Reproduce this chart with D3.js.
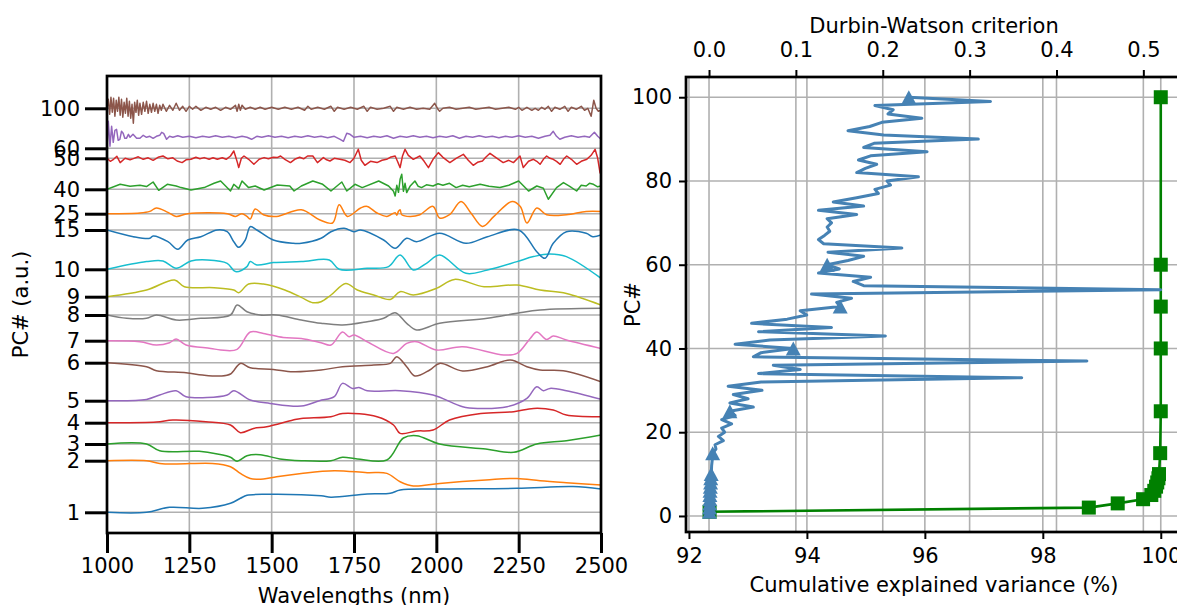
<!DOCTYPE html>
<html>
<head>
  <meta charset="utf-8">
  <title>PC spectra and Durbin-Watson</title>
  <script src="https://d3js.org/d3.v7.min.js"></script>
  <style>
  body { margin: 0; background: #fff; }
  text { font-family: "DejaVu Sans", sans-serif; font-size: 21px; fill: #000; }
  </style>
</head>
<body>
  <div id='container'></div>
  <script>

  // ---------- left panel data ----------
  var pcLabels = ['1','2','3','4','5','6','7','8','9','10','15','25','40','50','60','100']
  // vertical offset of each loading (a.u.)
  var pcOffsets = [0, 51.6, 68.3, 89.6, 111.6, 149.6, 171.6, 197.3, 215.6, 243, 282.3, 298.6, 323, 354, 364, 404]
  var wlTicks = [1000, 1250, 1500, 1750, 2000, 2250, 2500]
  var tab10 = ['#1f77b4','#ff7f0e','#2ca02c','#d62728','#9467bd','#8c564b','#e377c2','#7f7f7f','#bcbd22','#17becf']

  // loadings: [wavelength nm, value a.u. relative to offset]
  var pc1 = [[1000,0],[1120,0],[1190,5],[1290,4],[1375,9],[1405,14],[1425,17],[1485,18],[1650,16.5],[1680,15],[1790,18.3],[1860,19],[1890,22.3],[2000,23.3],[2245,24],[2415,25.7],[2500,23.3]]
  var pc2 = [[1000,0],[1120,0],[1160,-2.7],[1210,-3.3],[1320,-2.7],[1375,-6],[1405,-12.7],[1435,-17.7],[1475,-18.3],[1515,-16],[1590,-12.7],[1690,-10],[1790,-12],[1850,-12.7],[1890,-21],[1930,-25.3],[2010,-22.7],[2150,-19.3],[2245,-17.7],[2315,-20],[2395,-22],[2500,-24.3]]
  var pc3 = [[1000,0],[1120,0],[1160,-6.7],[1280,-7.3],[1335,-10],[1375,-13.3],[1395,-17.3],[1425,-11.7],[1465,-10.7],[1525,-15],[1590,-16.7],[1680,-16.7],[1715,-13.3],[1760,-15],[1850,-16],[1900,6],[1940,8.3],[2010,0],[2150,-5],[2235,-8.3],[2305,0],[2395,3.3],[2500,9]]
  var pc4 = [[1000,0],[1150,0.7],[1200,2.7],[1300,1],[1375,-2.3],[1405,-10],[1445,-5.7],[1485,-4],[1565,2.7],[1590,4.3],[1680,6],[1715,9.3],[1820,6],[1870,-2.3],[1890,-10.7],[1940,-8.3],[1990,-7.3],[2040,2.7],[2135,9.3],[2235,11],[2295,14.3],[2355,12.7],[2395,7.7],[2500,6]]
  var pc5 = [[1000,0],[1120,1.3],[1160,5.7],[1210,10],[1240,4],[1365,5.7],[1385,10],[1435,0.7],[1495,-2.7],[1590,-5.3],[1645,0],[1690,4],[1715,17.3],[1745,12.3],[1765,13.3],[1790,10],[1890,10],[1990,5.7],[2080,-6],[2125,-7.7],[2215,-6],[2275,2.3],[2305,14],[2325,10],[2345,12.3],[2395,10],[2500,1.3]]
  var pc6 = [[1000,0],[1120,-4],[1150,-8],[1240,-10],[1290,-12.3],[1345,-13.3],[1375,-11.3],[1405,-0.7],[1435,-5],[1505,-6.7],[1565,-9],[1650,-7.3],[1715,-4],[1810,-2.3],[1860,-0.7],[1880,6],[1910,-4],[1935,-13.3],[1980,-7.3],[2010,-0.7],[2080,-8.3],[2155,-4],[2225,2.7],[2275,-4],[2315,-7.3],[2385,-8],[2500,-19]]
  var pc7 = [[1000,0],[1100,-1],[1150,-4.3],[1190,-2],[1210,1.7],[1240,-4.3],[1315,-7.7],[1345,-9.3],[1395,-8.7],[1435,8.7],[1475,7.3],[1535,3.3],[1590,2.3],[1650,-2],[1680,-4.3],[1715,8.7],[1735,4],[1750,5.7],[1790,-1],[1870,-12.7],[1910,-2.7],[1940,-1],[2000,-9.3],[2080,-6],[2205,-14.3],[2245,-12.7],[2285,2.3],[2305,8.7],[2335,1.3],[2355,4.7],[2395,0.7],[2500,-7.7]]
  var pc8 = [[1000,0],[1060,-3.3],[1120,-3.3],[1150,0],[1210,-5],[1285,-3.3],[1375,0],[1395,10],[1425,3.3],[1465,0],[1515,0],[1590,-5],[1650,-8.3],[1715,-10],[1790,-6.7],[1840,-3.3],[1875,2.3],[1910,-8.3],[1940,-15],[2010,-8.3],[2155,-3.3],[2245,1.7],[2315,5],[2500,6.7]]
  var pc9 = [[1000,0],[1120,6.7],[1205,16.7],[1235,10],[1325,9],[1385,6.7],[1400,4],[1430,12.7],[1475,12.7],[1540,6.7],[1590,-0.7],[1625,-6],[1650,-5],[1680,1.7],[1725,13.3],[1760,6.7],[1810,1.7],[1860,-2.7],[1890,5],[1930,1.7],[2000,8.3],[2055,17.3],[2145,10],[2245,11.7],[2315,6.7],[2395,3.3],[2500,-8.3]]
  var pc10 = [[1000,0],[1120,7.7],[1170,8.3],[1210,1],[1255,8.3],[1305,9.3],[1365,6],[1390,-2.3],[1425,2.7],[1435,7.7],[1455,4.3],[1505,6.7],[1590,7.7],[1675,9.3],[1705,0],[1790,1],[1855,2.7],[1890,14.3],[1930,-0.7],[1970,6],[2010,14.3],[2090,-4],[2155,-0.7],[2245,7.7],[2295,12.7],[2345,15.3],[2395,12.7],[2500,-9]]
  var pc15 = [[1000,0],[1080,-6.7],[1130,-8.3],[1140,-6],[1185,-11.7],[1215,-19.3],[1245,-10],[1285,-6.7],[1335,0],[1365,-1.7],[1385,-11.7],[1400,-17.3],[1420,-10],[1435,3.3],[1455,0],[1505,-10],[1565,-13.3],[1590,-13.3],[1650,-8.3],[1680,-1.7],[1720,1.7],[1750,-1.7],[1770,0],[1840,-10],[1875,-18.3],[1910,-8.3],[1940,-11.7],[2010,-3.3],[2090,-13.3],[2155,-6.7],[2250,0],[2305,-21.7],[2330,-28.3],[2355,-13.3],[2395,-1.7],[2455,-3.3],[2475,-6.7],[2500,-5]]
  var pc25 = [[1000,0],[1100,0.7],[1130,2.3],[1150,5.7],[1185,1.3],[1210,-2.7],[1245,0],[1365,0],[1390,-2.7],[1410,0],[1425,-2.7],[1435,-5.3],[1450,4.7],[1475,-1],[1515,-2.7],[1590,4],[1645,-6],[1685,-9.3],[1705,9],[1730,-2.7],[1770,5.7],[1790,7.3],[1820,0.7],[1850,-2.7],[1875,1],[1880,-1.5],[1885,2.5],[1890,4],[1895,-1],[1920,-2.7],[1950,-1],[1990,7.3],[2010,-4.3],[2040,-1],[2075,12.3],[2105,0.7],[2140,-12.7],[2175,-2.7],[2230,12.3],[2255,7.3],[2275,-9.3],[2305,5.7],[2335,-1],[2395,-1],[2455,2.3],[2500,2.3]]
  var pc40 = [[1000,0],[1040,5],[1070,3],[1100,4],[1120,2.7],[1140,7.3],[1157,-1],[1183,5],[1210,3.3],[1225,1.7],[1255,-0.7],[1295,1.7],[1325,6],[1345,8.3],[1375,-1.7],[1385,5],[1400,0.7],[1410,8.3],[1430,1.7],[1450,3.3],[1477,-0.7],[1517,4.3],[1555,3.3],[1568,-1.7],[1590,3.3],[1625,8.3],[1655,5],[1680,-1.7],[1713,7.3],[1728,-1.7],[1753,5],[1775,1.7],[1825,8.3],[1855,3.3],[1870,-2],[1875,-6.7],[1880,4],[1885,-3],[1890,10],[1895,15],[1900,-2],[1905,6],[1910,-3.3],[1920,3],[1935,8.3],[1945,3],[1955,1.7],[1970,4.5],[1990,3.3],[2005,5.5],[2020,4],[2040,6],[2060,1.7],[2080,4],[2100,2.5],[2133,5],[2160,3],[2193,1.7],[2220,4],[2250,8.3],[2280,-1.7],[2305,3.3],[2325,1],[2340,-10],[2365,1.7],[2386,6.7],[2405,3],[2426,-1.7],[2440,4],[2455,3.3],[2465,6],[2477,5],[2490,2.5],[2500,3.3]]
  var pc50 = [[1000,0],[1010,-3],[1020,-1],[1030,2],[1040,-4.3],[1055,0],[1070,-1.5],[1080,-0.3],[1095,1.5],[1110,-1],[1125,0.5],[1140,-2],[1155,1],[1170,2.3],[1185,-0.5],[1200,0.5],[1213,-2.7],[1228,-4.3],[1240,-1.5],[1255,-1],[1270,1],[1282,-0.5],[1295,0.7],[1310,-1],[1322,0.5],[1335,-1],[1350,0.5],[1362,-1],[1375,2.3],[1385,7.3],[1392,0],[1396,-4.3],[1400,-9.3],[1408,0],[1416,2.3],[1430,-1],[1446,-6],[1462,-1],[1477,0.7],[1490,-0.5],[1505,1],[1517,0.7],[1527,2.3],[1540,-1],[1557,-4.3],[1570,-1],[1585,1],[1597,-0.5],[1609,2.3],[1625,2.3],[1639,-4.3],[1657,0.7],[1667,-1.5],[1677,-2.7],[1690,0],[1707,-1],[1722,-2],[1738,-4.3],[1750,0],[1763,9],[1772,-2],[1783,-7],[1800,-3],[1820,-4.3],[1835,-2],[1849,-1],[1860,1],[1875,2.3],[1882,-3],[1890,-9.3],[1897,2],[1905,9],[1915,3],[1930,-1],[1950,2.3],[1963,-3],[1976,-9.3],[1990,-1],[2006,5.7],[2020,1],[2041,-4.3],[2060,0],[2082,4],[2097,-2],[2112,-7],[2125,-4],[2140,-2.7],[2150,1],[2163,5],[2180,1],[2203,-4.3],[2220,-2],[2234,-4.3],[2254,2.3],[2264,-9.3],[2280,-3],[2295,-1],[2305,-3],[2315,-6],[2325,-1],[2335,2.3],[2345,0],[2355,-1],[2365,-3],[2376,-6],[2386,-1],[2396,2.3],[2410,-1],[2426,-6],[2440,-3],[2457,-1],[2470,3],[2482,9],[2490,0],[2497,-14.3],[2500,-16]]
  var pc60 = [[1000,0],[1004,27],[1009,2],[1014,22],[1019,6],[1024,18],[1029,19],[1034,8],[1039,9],[1044,17],[1049,15],[1054,10],[1059,10],[1065,14],[1070,11],[1079,14],[1090,10],[1100,10],[1110,13],[1120,11],[1130,12],[1140,10],[1150,12],[1160,13],[1166,16],[1172,15],[1181,9],[1190,12],[1200,11],[1215,12.5],[1230,11],[1250,12],[1270,10.5],[1290,12],[1310,11],[1330,12.5],[1350,11],[1370,12],[1390,10.5],[1410,12],[1425,11],[1439,9],[1455,12],[1470,11],[1490,12.5],[1510,11],[1530,12],[1550,10.5],[1570,12],[1590,11],[1610,12.5],[1630,11],[1650,12],[1670,10.5],[1690,12],[1708,9],[1718,7],[1728,15],[1738,14],[1750,11],[1770,12],[1790,10.5],[1810,12],[1830,11],[1850,12.5],[1870,10],[1890,12],[1910,11],[1930,12.5],[1950,11],[1970,12],[1990,10.5],[2010,12],[2030,11],[2050,12.5],[2070,10],[2090,12],[2110,11],[2130,12.5],[2150,11],[2170,12],[2190,10.5],[2210,12],[2230,11],[2250,12.5],[2270,11],[2290,12],[2310,10],[2330,12],[2345,13],[2355,17],[2365,12],[2375,9],[2390,11],[2410,12.5],[2430,11],[2450,12],[2465,11],[2480,16],[2490,12],[2500,9]]
  var pc100 = [[1000,0],[1004,9],[1008,-6],[1012,11],[1016,-4],[1020,10],[1024,-8],[1028,8],[1032,-3],[1036,11],[1040,-7],[1044,9],[1048,-9],[1052,6],[1056,-5],[1060,10],[1064,-8],[1068,7],[1072,-10],[1076,4],[1080,-15],[1084,6],[1088,-4],[1092,8],[1096,-7],[1100,5],[1105,-6],[1110,6],[1115,-3],[1120,7],[1125,-5],[1130,4],[1135,-4],[1140,5],[1145,-3],[1150,4],[1155,-5],[1160,3],[1165,-2],[1170,4],[1180,-3],[1190,3],[1200,-2],[1210,5],[1220,-2],[1230,2],[1240,-3],[1250,2],[1260,-1],[1270,2],[1285,-2],[1300,1],[1315,-1],[1330,1],[1345,-2],[1360,1],[1375,-1],[1390,3],[1395,-3],[1400,4],[1405,-2],[1410,3],[1420,-1],[1435,1],[1450,-1],[1465,1],[1480,-1],[1500,1],[1520,-1],[1540,1],[1560,-1],[1580,1],[1600,-2],[1610,2],[1620,-1],[1640,1],[1660,-1],[1680,2],[1690,-3],[1700,1],[1720,-1],[1740,1],[1760,-1],[1780,2],[1790,-3],[1800,1],[1820,-1],[1840,0],[1860,2],[1870,-3],[1880,1],[1900,-1],[1920,1],[1940,-1],[1960,0],[1980,-1],[1995,5],[2005,-1],[2010,-3],[2020,0],[2040,1],[2060,-1],[2080,0],[2100,1],[2120,-1],[2140,0],[2160,1],[2180,-1],[2200,0],[2220,1],[2240,-1],[2250,1],[2260,-2],[2275,1],[2290,-2],[2300,0],[2310,-2],[2320,1],[2330,-1],[2340,2],[2350,-3],[2360,1],[2375,-1],[2390,2],[2400,-3],[2410,1],[2425,-1],[2440,2],[2450,-2],[2460,0],[2470,-8],[2478,8],[2485,0],[2492,-3],[2500,-2]]

  var spectra = [pc1, pc2, pc3, pc4, pc5, pc6, pc7, pc8, pc9, pc10, pc15, pc25, pc40, pc50, pc60, pc100]

  // ---------- right panel data ----------
  // Durbin-Watson criterion for PC 1..100
  var dwValues = [0.0005,0.0006,0.0008,0.001,0.001,0.0012,0.0015,0.0018,0.002,0.0025,
    0.0028,0.003,0.0035,0.004,0.0042,0.008,0.0069,0.0165,0.0108,0.018,
    0.0146,0.026,0.0146,0.030,0.024,0.051,0.024,0.045,0.028,0.061,
    0.022,0.060,0.36,0.057,0.105,0.074,0.435,0.051,0.060,0.097,
    0.030,0.070,0.203,0.057,0.141,0.049,0.090,0.1125,0.105,0.151,
    0.147,0.164,0.118,0.52,0.178,0.166,0.186,0.126,0.150,0.136,
    0.160,0.178,0.137,0.222,0.132,0.126,0.133,0.139,0.136,0.141,
    0.136,0.170,0.126,0.178,0.143,0.170,0.195,0.191,0.209,0.205,
    0.241,0.170,0.180,0.193,0.172,0.186,0.251,0.178,0.190,0.310,
    0.201,0.160,0.185,0.199,0.245,0.206,0.212,0.191,0.324,0.230]
  var selPC = [1,2,3,4,5,6,7,8,9,10,15,25,40,50,60,100]
  var cumVar = [92.35,98.78,99.27,99.70,99.84,99.89,99.92,99.94,99.96,99.97,99.99,100,100,100,100,100]
  var varTicks = [92, 94, 96, 98, 100]
  var dwTicks = [0, 0.1, 0.2, 0.3, 0.4, 0.5]
  var pcTicks = [0, 20, 40, 60, 80, 100]

  const width = 1177
  const height = 605
  const gridColor = '#b0b0b0'

  var svg = d3.select('#container')
    .append('svg')
    .attr('width', width)
    .attr('height', height)
    .style('display', 'block')

  svg.append('rect').attr('width', width).attr('height', height).style('fill', '#fff')

  function styleAxis(g, tickW) {
    g.attr('font-family', null).attr('font-size', null)
    g.select('.domain').remove()
    g.selectAll('.tick line').style('stroke', '#000').style('stroke-width', tickW)
    g.selectAll('.tick text').style('fill', '#000')
  }

  // ================= left panel =================
  var L = {x0: 107, x1: 601, y0: 76, y1: 533}
  var xL = d3.scaleLinear().domain([1000, 2500]).range([L.x0, L.x1])
  var yL = d3.scaleLinear().domain([-20.7, 436.3]).range([L.y1, L.y0])

  svg.append('clipPath').attr('id', 'clipL')
    .append('rect').attr('x', L.x0).attr('y', L.y0).attr('width', L.x1 - L.x0).attr('height', L.y1 - L.y0)

  var left = svg.append('g')

  left.selectAll('.vgridL').data(wlTicks).enter().append('line')
    .attr('x1', d => xL(d)).attr('x2', d => xL(d))
    .attr('y1', L.y0).attr('y2', L.y1)
    .style('stroke', gridColor).style('stroke-width', 1.6)

  left.selectAll('.hgridL').data(pcOffsets).enter().append('line')
    .attr('x1', L.x0).attr('x2', L.x1)
    .attr('y1', d => yL(d)).attr('y2', d => yL(d))
    .style('stroke', gridColor).style('stroke-width', 1.6)

  var noisy = {'40': true, '50': true, '60': true, '100': true}
  var specG = left.append('g').attr('clip-path', 'url(#clipL)')
  spectra.forEach(function(s, i) {
    var off = pcOffsets[i]
    var ln = d3.line()
      .x(d => xL(d[0]))
      .y(d => yL(off + d[1]))
      .curve(noisy[pcLabels[i]] ? d3.curveLinear : d3.curveCatmullRom.alpha(0.5))
    specG.append('path')
      .datum(s)
      .attr('d', ln)
      .style('fill', 'none')
      .style('stroke', tab10[i % 10])
      .style('stroke-width', 1.5)
      .style('stroke-linejoin', 'round')
  })

  left.append('rect')
    .attr('x', L.x0).attr('y', L.y0).attr('width', L.x1 - L.x0).attr('height', L.y1 - L.y0)
    .style('fill', 'none').style('stroke', '#000').style('stroke-width', 2.7)

  var yAxisL = d3.axisLeft(yL).tickValues(pcOffsets)
    .tickFormat((d, i) => pcLabels[i]).tickSize(22).tickPadding(5)
  left.append('g').attr('transform', 'translate(' + L.x0 + ',0)').call(yAxisL).call(g => styleAxis(g, 3))

  var xAxisL = d3.axisBottom(xL).tickValues(wlTicks).tickFormat(d3.format('d')).tickSize(20).tickPadding(5)
  left.append('g').attr('transform', 'translate(0,' + L.y1 + ')').call(xAxisL).call(g => styleAxis(g, 3))

  left.append('text').attr('x', (L.x0 + L.x1) / 2).attr('y', 603)
    .attr('text-anchor', 'middle').text('Wavelengths (nm)')
  left.append('text').attr('transform', 'translate(28,' + (L.y0 + L.y1) / 2 + ') rotate(-90)')
    .attr('text-anchor', 'middle').text('PC# (a.u.)')

  // ================= right panel =================
  var R = {x0: 686, x1: 1182, y0: 77, y1: 532}
  var xVar = d3.scaleLinear().domain([91.95, 100.36]).range([R.x0, R.x1])
  var xDW = d3.scaleLinear().domain([-0.0265, 0.5445]).range([R.x0, R.x1])
  var yR = d3.scaleLinear().domain([-3.95, 104.95]).range([532.5, 76.5])

  svg.append('clipPath').attr('id', 'clipR')
    .append('rect').attr('x', R.x0).attr('y', R.y0).attr('width', R.x1 - R.x0).attr('height', R.y1 - R.y0)

  var right = svg.append('g')

  right.selectAll('.vgridVar').data(varTicks).enter().append('line')
    .attr('x1', d => xVar(d)).attr('x2', d => xVar(d)).attr('y1', R.y0).attr('y2', R.y1)
    .style('stroke', gridColor).style('stroke-width', 1.6)
  right.selectAll('.vgridDW').data(dwTicks).enter().append('line')
    .attr('x1', d => xDW(d)).attr('x2', d => xDW(d)).attr('y1', R.y0).attr('y2', R.y1)
    .style('stroke', gridColor).style('stroke-width', 1.6)
  right.selectAll('.hgridR').data(pcTicks).enter().append('line')
    .attr('x1', R.x0).attr('x2', R.x1).attr('y1', d => yR(d)).attr('y2', d => yR(d))
    .style('stroke', gridColor).style('stroke-width', 1.6)

  var plotR = right.append('g').attr('clip-path', 'url(#clipR)')

  // cumulative explained variance (green, bottom axis)
  var varPts = selPC.map((p, i) => ({pc: p, v: cumVar[i]}))
  plotR.append('path').datum(varPts)
    .attr('d', d3.line().x(d => xVar(d.v)).y(d => yR(d.pc)))
    .style('fill', 'none').style('stroke', '#008000').style('stroke-width', 2.6)
  plotR.selectAll('.sq').data(varPts).enter().append('rect')
    .attr('x', d => xVar(d.v) - 7).attr('y', d => yR(d.pc) - 7)
    .attr('width', 14).attr('height', 14)
    .style('fill', '#008000')

  // Durbin-Watson (steelblue, top axis)
  var dwPts = dwValues.map((v, i) => ({pc: i + 1, v: v}))
  plotR.append('path').datum(dwPts)
    .attr('d', d3.line().x(d => xDW(d.v)).y(d => yR(d.pc)))
    .style('fill', 'none').style('stroke', 'steelblue').style('stroke-width', 3)
    .style('stroke-linejoin', 'round')
  var triPts = dwPts.filter(d => selPC.indexOf(d.pc) >= 0)
  plotR.selectAll('.tri').data(triPts).enter().append('path')
    .attr('d', d => {
      var cx = xDW(d.v), cy = yR(d.pc)
      return 'M' + cx + ',' + (cy - 7) + 'L' + (cx + 7.5) + ',' + (cy + 7) + 'L' + (cx - 7.5) + ',' + (cy + 7) + 'Z'
    })
    .style('fill', 'steelblue')

  right.append('rect')
    .attr('x', R.x0).attr('y', R.y0).attr('width', R.x1 - R.x0).attr('height', R.y1 - R.y0)
    .style('fill', 'none').style('stroke', '#000').style('stroke-width', 2.7)

  var yAxisR = d3.axisLeft(yR).tickValues(pcTicks).tickFormat(d3.format('d')).tickSize(7).tickPadding(7)
  right.append('g').attr('transform', 'translate(' + R.x0 + ',0)').call(yAxisR).call(g => styleAxis(g, 2))

  var xAxisVar = d3.axisBottom(xVar).tickValues(varTicks).tickFormat(d3.format('d')).tickSize(7).tickPadding(9)
  right.append('g').attr('transform', 'translate(0,' + R.y1 + ')').call(xAxisVar).call(g => styleAxis(g, 2))

  var xAxisDW = d3.axisTop(xDW).tickValues(dwTicks).tickFormat(d3.format('.1f')).tickSize(7).tickPadding(13)
  right.append('g').attr('transform', 'translate(0,' + R.y0 + ')').call(xAxisDW).call(g => styleAxis(g, 2))

  right.append('text').attr('x', (R.x0 + R.x1) / 2).attr('y', 592)
    .attr('text-anchor', 'middle').text('Cumulative explained variance (%)')
  right.append('text').attr('x', (R.x0 + R.x1) / 2).attr('y', 33)
    .attr('text-anchor', 'middle').text('Durbin-Watson criterion')
  right.append('text').attr('transform', 'translate(640,' + (R.y0 + R.y1) / 2 + ') rotate(-90)')
    .attr('text-anchor', 'middle').text('PC#')

  </script>
</body>
</html>
